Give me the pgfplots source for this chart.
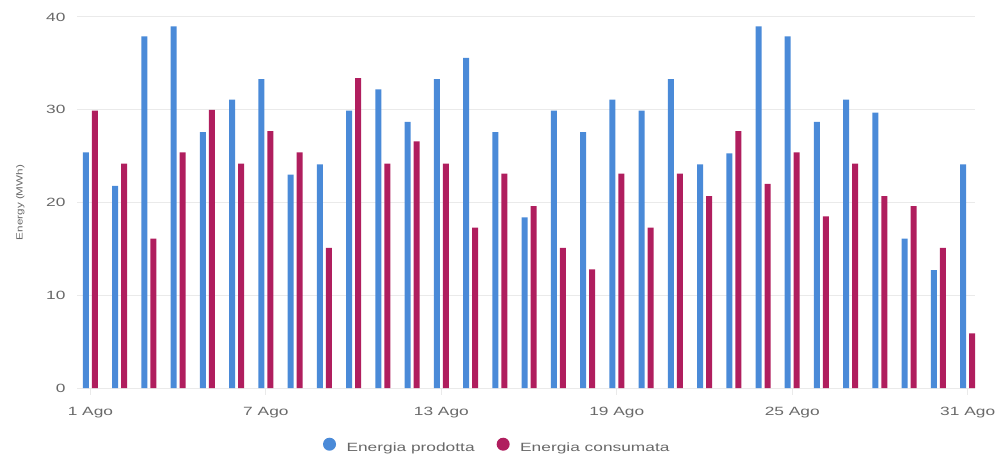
\documentclass[border=0pt]{standalone}
\usepackage{pgfplots}
\pgfplotsset{compat=1.18}
\usepackage{graphicx}
\usepackage{fontspec}
\setmainfont{Liberation Sans}[FakeStretch=1.45]
\newfontfamily\plainsans{Liberation Sans}
\definecolor{prodotta}{RGB}{74,138,216}
\definecolor{consumata}{RGB}{176,30,94}
\definecolor{gridgray}{RGB}{234,234,234}
\definecolor{labelgray}{RGB}{105,105,105}
\begin{document}
\begin{tikzpicture}
\useasboundingbox (-77bp,-67bp) rectangle (918bp,388bp);
\begin{axis}[
  at={(0,0)}, anchor=south west,
  scale only axis, width=898bp, height=371bp,
  ybar=3bp, bar width=6bp,
  xmin=0.54, xmax=31.25, ymin=0, ymax=40,
  xtick={1,7,13,19,25,31},
  xticklabels={1 Ago,7 Ago,13 Ago,19 Ago,25 Ago,31 Ago},
  ytick={0,10,20,30,40},
  xtick pos=lower, ytick pos=left,
  ymajorgrids, grid style={gridgray, line width=1bp},
  axis line style={draw=none},
  ytick style={draw=none},
  xtick style={draw=gridgray, line width=1bp},
  major tick length=7bp, tick align=outside,
  tick label style={font=\fontsize{12}{14}\selectfont, text=labelgray},
  xticklabel style={yshift=-9bp},
  yticklabel style={xshift=-1bp},
  /pgf/number format/assume math mode=true,
  ylabel={\scalebox{1.3}[1]{Energy (MWh)}},
  ylabel style={font=\plainsans\fontsize{9}{11}\selectfont, text=labelgray, at={(axis description cs:-0.063,0.5)}, anchor=center},
  legend style={at={(0.468,-0.157)}, anchor=center, draw=none, font=\fontsize{12}{14}\selectfont, text=labelgray,
    /tikz/every even column/.append style={column sep=20bp}},
  legend columns=2,
]
\addplot[fill=prodotta, draw=none, legend image code/.code={\fill[prodotta] (0bp,0.35em) circle (6.5bp); \path (15bp,0.35em);}] coordinates {
(1,25.4) (2,21.8) (3,37.9) (4,39.0) (5,27.6) (6,31.1) (7,33.3) (8,23.0) (9,24.1) (10,29.9)
(11,32.2) (12,28.7) (13,33.3) (14,35.6) (15,27.6) (16,18.4) (17,29.9) (18,27.6) (19,31.1) (20,29.9)
(21,33.3) (22,24.1) (23,25.3) (24,39.0) (25,37.9) (26,28.7) (27,31.1) (28,29.7) (29,16.1) (30,12.7) (31,24.1)
};
\addplot[fill=consumata, draw=none, legend image code/.code={\fill[consumata] (0bp,0.35em) circle (6.5bp); \path (15bp,0.35em);}] coordinates {
(1,29.9) (2,24.2) (3,16.1) (4,25.4) (5,30.0) (6,24.2) (7,27.7) (8,25.4) (9,15.1) (10,33.4)
(11,24.2) (12,26.6) (13,24.2) (14,17.3) (15,23.1) (16,19.6) (17,15.1) (18,12.8) (19,23.1) (20,17.3)
(21,23.1) (22,20.7) (23,27.7) (24,22.0) (25,25.4) (26,18.5) (27,24.2) (28,20.7) (29,19.6) (30,15.1) (31,5.9)
};
\legend{Energia prodotta, Energia consumata}
\end{axis}
\end{tikzpicture}
\end{document}
